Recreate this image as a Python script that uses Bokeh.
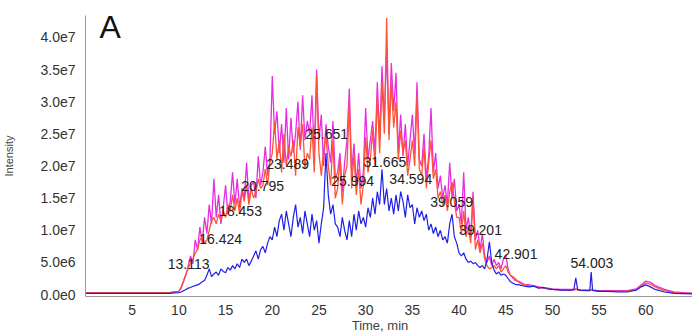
from bokeh.plotting import figure
from bokeh.models import ColumnDataSource, FixedTicker, CustomJSTickFormatter, Range1d, Label
from bokeh.core.properties import value
from bokeh.embed import file_html
from bokeh.resources import INLINE

# ---- data (intensity in units of 1e6) ----
time_min = [0, 2, 4, 6, 8, 9, 9.5,
    10.0, 10.25, 10.5, 10.75, 11.0, 11.25, 11.5, 11.75, 12.0, 12.25, 12.5, 12.75,
    13.0, 13.25, 13.5, 13.75, 14.0, 14.25, 14.5, 14.75, 15.0, 15.25, 15.5, 15.75,
    16.0, 16.25, 16.5, 16.75, 17.0, 17.25, 17.5, 17.75, 18.0, 18.25, 18.5, 18.75,
    19.0, 19.25, 19.5, 19.75, 20.0, 20.25, 20.5, 20.75, 21.0, 21.25, 21.5, 21.75,
    22.0, 22.25, 22.5, 22.75, 23.0, 23.25, 23.5, 23.75, 24.0, 24.25, 24.5, 24.75,
    25.0, 25.25, 25.5, 25.75, 26.0, 26.25, 26.5, 26.75, 27.0, 27.25, 27.5, 27.75,
    28.0, 28.25, 28.5, 28.75, 29.0, 29.25, 29.5, 29.75, 30.0, 30.25, 30.5, 30.75,
    31.0, 31.25, 31.5, 31.75, 32.0, 32.25, 32.5, 32.75, 33.0, 33.25, 33.5, 33.75,
    34.0, 34.25, 34.5, 34.75, 35.0, 35.25, 35.5, 35.75, 36.0, 36.25, 36.5, 36.75,
    37.0, 37.25, 37.5, 37.75, 38.0, 38.25, 38.5, 38.75, 39.0, 39.25, 39.5, 39.75,
    40.0, 40.25, 40.5, 40.75, 41.0, 41.25, 41.5, 41.75, 42.0, 42.25, 42.5, 42.75,
    43.0, 43.25, 43.5, 43.75, 44.0, 44.25, 44.5, 44.75, 45.0, 45.25, 45.5, 45.75,
    46.0,
    46.5, 47, 47.5, 48, 48.5, 49, 49.5, 50, 51, 52, 52.3, 52.5, 52.7, 53, 54, 54.15, 54.3,
    55, 56, 57, 58, 59, 59.5, 60, 60.5, 61, 62, 63, 64, 65]

magenta = [0.3, 0.3, 0.3, 0.3, 0.3, 0.3, 0.4,
    0.5, 1.0, 2.0, 3.0, 4.5, 6.0, 4.8, 8.5, 7.0, 10.5, 8.0, 12.0,
    9.5, 14.0, 11.0, 18.0, 12.0, 15.5, 11.0, 13.5, 17.0, 12.5, 14.5, 19.0,
    14.0, 18.0, 13.5, 16.5, 15.0, 20.5, 14.5, 17.0, 17.5, 15.0, 21.5, 17.0,
    19.0, 23.0, 18.5, 21.0, 34.0, 25.0, 28.5, 22.0, 26.5, 20.5, 29.0, 21.0,
    27.5, 22.0, 25.0, 30.0, 22.5, 31.0, 24.0, 27.0, 25.0, 31.0, 22.0, 35.0,
    24.0, 28.0, 20.0, 26.5, 23.0, 20.5, 27.0, 18.0, 19.0, 22.0, 16.0, 20.5,
    24.0, 32.0, 19.0, 23.5, 17.0, 22.0, 16.5, 19.0, 29.0, 21.0, 24.0, 27.0,
    22.0, 33.0, 24.0, 35.5, 27.0, 38.0, 25.0, 36.0, 28.5, 34.5, 22.0, 28.0,
    21.5, 26.5, 20.0, 24.0, 28.0, 22.0, 33.0, 21.0, 20.0, 25.0, 18.0, 21.5,
    29.0, 19.0, 22.0, 16.5, 18.5, 15.0, 17.0, 14.0, 20.5, 15.0, 18.0, 13.0,
    14.0, 11.0, 19.0, 10.0, 12.0, 9.0, 16.0, 8.5, 10.0, 7.0, 9.5, 6.0,
    5.0, 6.0, 4.5, 5.5, 4.5, 5.0, 4.0, 5.5, 6.2, 4.0, 3.0, 2.6,
    2.2,
    2.0, 1.6, 1.5, 1.4, 1.2, 1.1, 1.0, 0.9, 0.8, 0.8, 0.8, 0.9, 0.8, 0.7, 0.7, 0.8, 0.7,
    0.6, 0.6, 0.6, 0.6, 0.9, 1.5, 2.1, 1.9, 1.4, 0.8, 0.4, 0.3, 0.2]

orange = [0.3, 0.3, 0.3, 0.3, 0.3, 0.3, 0.4,
    0.5, 1.2, 2.2, 3.2, 4.0, 5.0, 5.5, 6.5, 7.0, 8.5, 9.0, 8.0,
    8.5, 10.0, 11.5, 12.0, 11.0, 12.5, 11.5, 13.0, 12.0, 14.0, 13.0, 15.5,
    13.0, 15.0, 12.5, 16.0, 14.5, 17.0, 14.0, 16.5, 15.0, 16.0, 18.0, 16.5,
    17.0, 19.5, 17.0, 20.5, 22.0, 27.0, 21.0, 24.0, 19.0, 25.0, 20.0, 23.0,
    21.5, 24.0, 18.5, 26.0, 23.0, 26.5, 19.5, 22.0, 21.0, 26.0, 19.0, 34.0,
    22.0, 18.5, 22.5, 25.0, 20.0, 17.0, 24.0, 15.0, 16.5, 21.0, 14.0, 18.5,
    20.0, 30.0, 16.5, 22.0, 15.5, 19.5, 14.0, 17.0, 24.5, 19.0, 21.0, 25.5,
    20.0, 31.0, 22.0, 33.0, 25.0, 43.0, 24.0, 33.0, 26.0, 30.0, 21.0, 25.5,
    22.0, 24.0, 18.5, 21.0, 24.0, 20.0, 31.0, 19.5, 18.5, 23.0, 16.5, 20.5,
    24.0, 18.0, 19.5, 15.0, 16.0, 14.0, 15.5, 13.0, 16.0, 17.5, 14.5, 12.0,
    12.0, 9.5, 13.0, 9.0, 10.5, 8.0, 15.0, 7.0, 8.5, 6.5, 8.0, 5.5,
    4.5, 4.0, 4.2, 4.5, 4.0, 4.5, 3.5, 4.0, 4.5, 3.5, 3.0, 2.8,
    2.5,
    1.8, 1.5, 1.4, 1.3, 1.1, 1.0, 0.9, 0.8, 0.7, 0.7, 0.7, 0.8, 0.7, 0.6, 0.6, 0.7, 0.6,
    0.5, 0.5, 0.5, 0.5, 0.8, 1.4, 1.8, 1.6, 1.2, 0.6, 0.3, 0.2, 0.2]

blue = [0.2, 0.2, 0.2, 0.2, 0.2, 0.2, 0.25,
    0.3, 0.4, 0.6, 0.8, 1.0, 1.1, 1.3, 1.4, 1.5, 1.7, 2.0, 2.2,
    3.0, 4.0, 2.8, 3.2, 3.5, 3.0, 4.0, 3.6, 3.4, 4.2, 3.8, 4.5,
    4.0, 4.8, 4.2, 5.5, 5.0, 5.5, 4.5, 5.2, 6.0, 6.8, 5.5, 7.0,
    7.5, 6.5, 8.0, 9.0, 8.5, 10.5, 9.0, 11.5, 12.5, 10.0, 13.0, 11.0,
    9.0, 12.0, 14.0, 10.5, 12.0, 9.5, 13.0, 11.0, 9.0, 12.5, 10.0, 11.5,
    8.0, 11.0, 13.5, 22.0, 15.5, 12.5, 14.0, 11.0, 10.5, 9.0, 12.0, 10.0,
    8.5, 11.5, 9.0, 12.5, 10.0, 13.0, 11.0, 12.0, 10.5, 13.5, 12.0, 15.0,
    12.5, 16.0, 14.0, 19.5, 14.0, 16.5, 13.0, 15.0, 12.5, 15.5, 13.0, 16.0,
    14.5, 12.0, 15.5, 13.5, 14.0, 11.0, 13.5, 12.0, 13.0, 11.5, 12.5, 10.0,
    11.0, 9.5, 10.5, 9.0, 10.0, 8.5, 9.0, 8.0, 11.0, 12.5, 9.0, 8.0,
    6.5, 6.0, 6.5, 5.5, 5.0, 5.2, 4.8, 5.0, 4.5, 4.2, 4.5, 4.0,
    5.5, 8.2, 5.0, 3.8, 3.2, 3.5, 3.0, 3.2, 3.0, 2.5, 2.0, 1.8,
    1.6,
    1.5, 1.3, 1.2, 1.3, 1.0, 1.1, 0.9, 0.8, 0.7, 0.7, 0.8, 2.6, 0.8, 0.7, 0.6, 3.5, 0.7,
    0.5, 0.5, 0.4, 0.4, 0.7, 1.2, 1.5, 1.2, 0.8, 0.4, 0.2, 0.15, 0.1]

peak_labels = ["13.113", "16.424", "18.453", "20.795", "23.489", "25.651", "25.994",
               "31.665", "34.594", "39.059", "39.201", "42.901", "54.003"]
label_t = [11.04, 14.47, 16.6, 18.97, 21.65, 25.83, 28.6, 32.05, 34.83, 39.2, 42.3, 46.1, 54.23]
label_i = [4.73, 8.70, 12.98, 16.9, 20.3, 25.0, 17.7, 20.6, 18.0, 14.35, 10.1, 6.26, 4.88]

x_ticks = [5, 10, 15, 20, 25, 30, 35, 40, 45, 50, 55, 60]
y_ticks_m = [0, 5, 10, 15, 20, 25, 30, 35, 40]

SCALE = 1e6
src = ColumnDataSource(dict(
    t=time_min,
    m=[v * SCALE for v in magenta],
    o=[v * SCALE for v in orange],
    b=[v * SCALE for v in blue],
))
lab_src = ColumnDataSource(dict(
    x=label_t, y=[v * SCALE for v in label_i], text=peak_labels))

p = figure(width=692, height=335, output_backend="svg", toolbar_location=None,
           x_range=Range1d(0, 65), y_range=Range1d(-0.3e6, 43.4e6),
           min_border_left=85, min_border_right=0, min_border_top=15,
           min_border_bottom=34)
p.outline_line_color = None
p.grid.grid_line_color = None
p.background_fill_color = "white"
p.border_fill_color = "white"

p.line("t", "m", source=src, color="#e62ee0", line_width=1.3)
p.line("t", "o", source=src, color="#ff5433", line_width=1.3)
p.line("t", "b", source=src, color="#1f1fe6", line_width=1.2)

p.text("x", "y", text="text", source=lab_src, text_align="center",
       text_baseline="middle", text_font=value("Liberation Sans"),
       text_font_size="14px", text_color="#222222")

p.xaxis.ticker = FixedTicker(ticks=x_ticks)
p.yaxis.ticker = FixedTicker(ticks=[v * SCALE for v in y_ticks_m])
p.yaxis.formatter = CustomJSTickFormatter(code="""
if (tick == 0) return "0.0e0";
const e = Math.floor(Math.log10(Math.abs(tick)) + 1e-9);
const m = tick / Math.pow(10, e);
return m.toFixed(1) + "e" + e;
""")
for ax in (p.xaxis[0], p.yaxis[0]):
    ax.axis_line_color = "#9a9a9a"
    ax.major_tick_line_color = None
    ax.minor_tick_line_color = None
    ax.major_label_text_font = "Liberation Sans"
    ax.major_label_text_font_size = "14px"
    ax.major_label_text_color = "#333333"
    ax.axis_label_text_font = "Liberation Sans"
    ax.axis_label_text_font_style = "normal"
    ax.axis_label_text_color = "#444444"

p.xaxis.major_label_standoff = 2
p.yaxis.major_label_standoff = 4
# trailing no-break spaces shift the centred title a little to the left, as in the original
p.xaxis.axis_label = "Time, min" + "\u00a0" * 5
p.xaxis.axis_label_text_font_size = "13px"
p.xaxis.axis_label_standoff = 0
p.yaxis.axis_label = "Intensity"
p.yaxis.axis_label_text_font_size = "11px"
p.yaxis.axis_label_standoff = 22

p.add_layout(Label(x=1.5, y=41.6e6, text="A", text_font="Liberation Sans",
                   text_font_size="32px", text_color="#111111",
                   text_align="left", text_baseline="middle"))

open("out.html", "w").write(file_html(p, INLINE))
